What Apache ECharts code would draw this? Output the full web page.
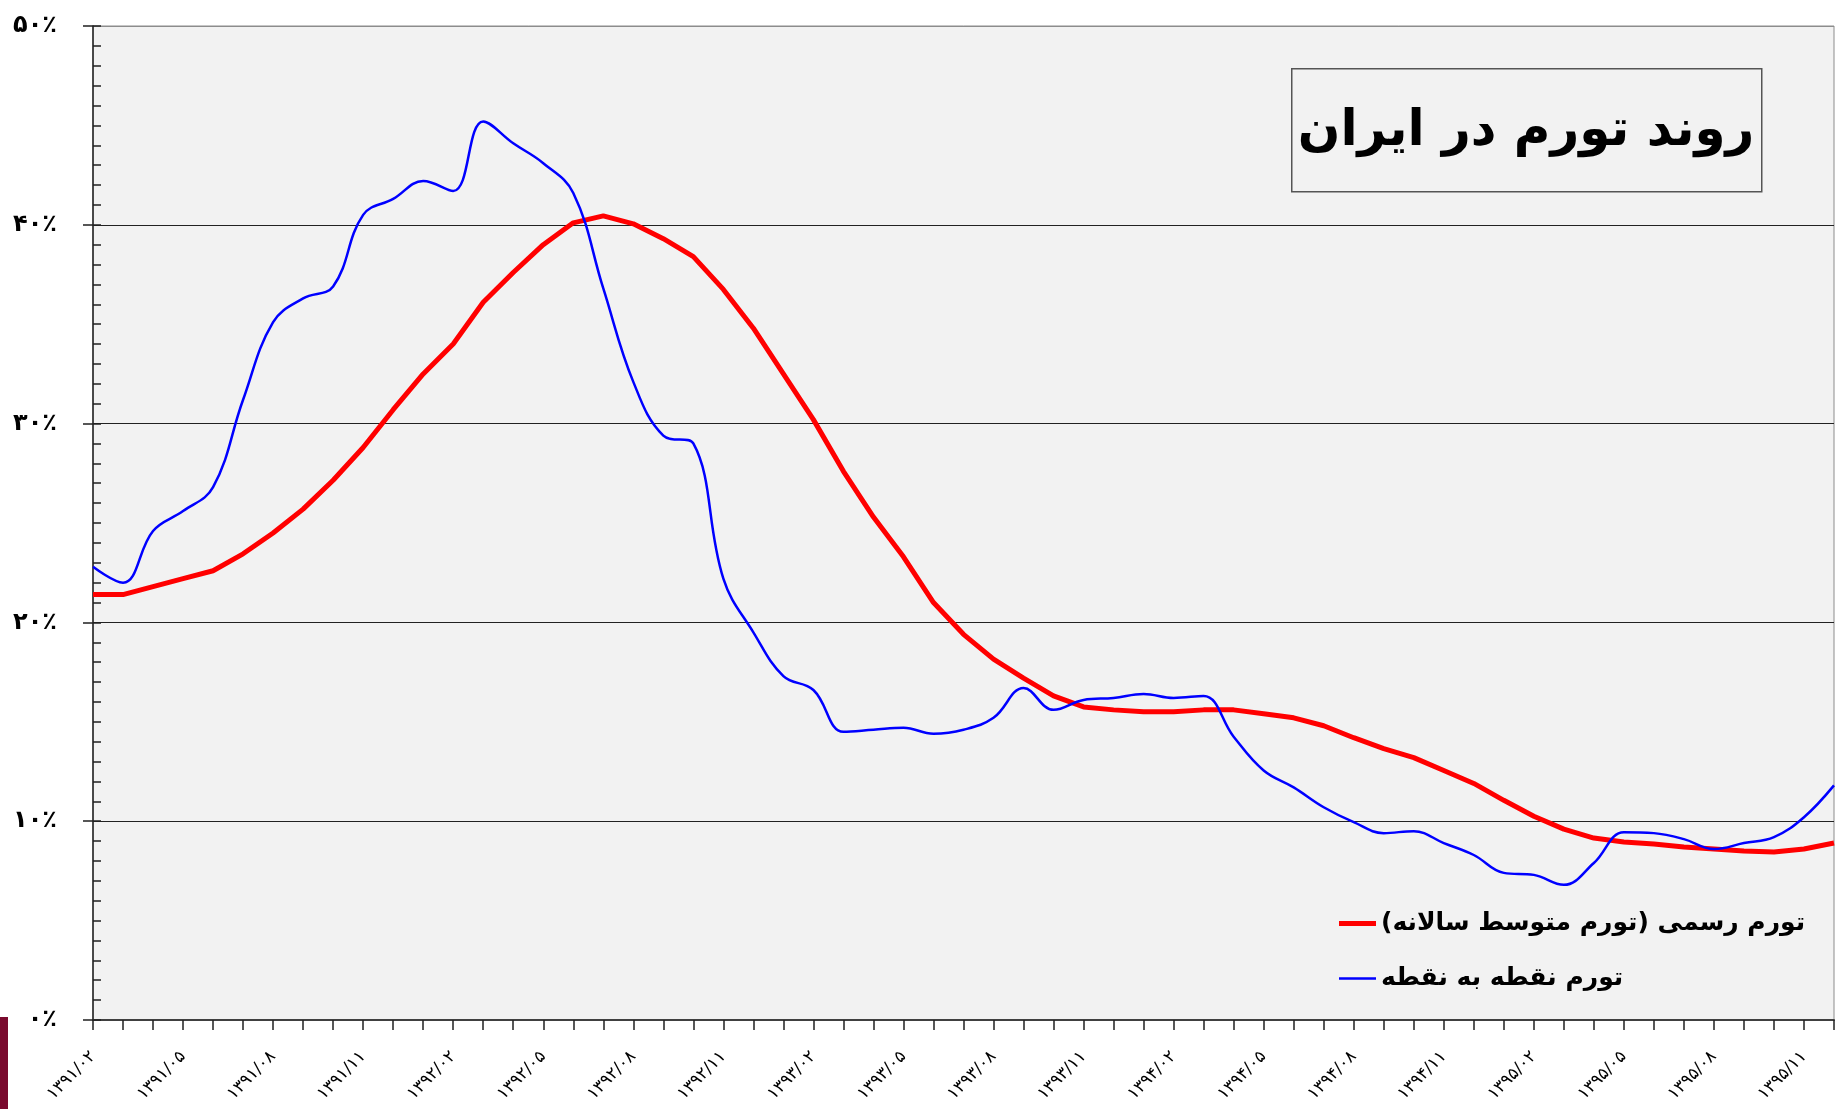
<!DOCTYPE html>
<html lang="fa">

<head>
    <meta charset="UTF-8">
    <title>روند تورم در ایران</title>
    <script src="https://cdn.jsdelivr.net/npm/echarts@6/dist/echarts.min.js"></script>
</head>

<body style="margin:0;background-color:#ffffff;">
    <div id="main" style="position:absolute;left:0;top:0;width:1846px;height:1109px"></div>

    <script>
        // months 1391/02 .. 1395/12
        var months = [
            '۱۳۹۱/۰۲', '۱۳۹۱/۰۳', '۱۳۹۱/۰۴', '۱۳۹۱/۰۵', '۱۳۹۱/۰۶', '۱۳۹۱/۰۷', '۱۳۹۱/۰۸', '۱۳۹۱/۰۹', '۱۳۹۱/۱۰', '۱۳۹۱/۱۱', '۱۳۹۱/۱۲',
            '۱۳۹۲/۰۱', '۱۳۹۲/۰۲', '۱۳۹۲/۰۳', '۱۳۹۲/۰۴', '۱۳۹۲/۰۵', '۱۳۹۲/۰۶', '۱۳۹۲/۰۷', '۱۳۹۲/۰۸', '۱۳۹۲/۰۹', '۱۳۹۲/۱۰', '۱۳۹۲/۱۱', '۱۳۹۲/۱۲',
            '۱۳۹۳/۰۱', '۱۳۹۳/۰۲', '۱۳۹۳/۰۳', '۱۳۹۳/۰۴', '۱۳۹۳/۰۵', '۱۳۹۳/۰۶', '۱۳۹۳/۰۷', '۱۳۹۳/۰۸', '۱۳۹۳/۰۹', '۱۳۹۳/۱۰', '۱۳۹۳/۱۱', '۱۳۹۳/۱۲',
            '۱۳۹۴/۰۱', '۱۳۹۴/۰۲', '۱۳۹۴/۰۳', '۱۳۹۴/۰۴', '۱۳۹۴/۰۵', '۱۳۹۴/۰۶', '۱۳۹۴/۰۷', '۱۳۹۴/۰۸', '۱۳۹۴/۰۹', '۱۳۹۴/۱۰', '۱۳۹۴/۱۱', '۱۳۹۴/۱۲',
            '۱۳۹۵/۰۱', '۱۳۹۵/۰۲', '۱۳۹۵/۰۳', '۱۳۹۵/۰۴', '۱۳۹۵/۰۵', '۱۳۹۵/۰۶', '۱۳۹۵/۰۷', '۱۳۹۵/۰۸', '۱۳۹۵/۰۹', '۱۳۹۵/۱۰', '۱۳۹۵/۱۱', '۱۳۹۵/۱۲'
        ];

        // official inflation (12-month average)
        var officialRate = [
            21.4, 21.4, 21.8, 22.2, 22.6, 23.45, 24.5, 25.7, 27.15, 28.8, 30.7,
            32.5, 34.0, 36.1, 37.6, 39.0, 40.1, 40.45, 40.05, 39.3, 38.4, 36.75, 34.8,
            32.5, 30.2, 27.6, 25.3, 23.3, 21.0, 19.4, 18.15, 17.2, 16.3, 15.75, 15.6,
            15.5, 15.5, 15.6, 15.6, 15.4, 15.2, 14.8, 14.2, 13.65, 13.2, 12.55, 11.9,
            11.05, 10.25, 9.6, 9.15, 8.95, 8.85, 8.7, 8.6, 8.5, 8.45, 8.6, 8.9
        ];

        // point-to-point inflation
        var pointRate = [
            22.8, 22.0, 24.6, 25.6, 26.8, 31.2, 35.1, 36.3, 36.9, 40.5, 41.3,
            42.2, 41.7, 45.2, 44.1, 43.1, 41.6, 36.8, 32.1, 29.4, 29.0, 22.2, 19.5,
            17.3, 16.6, 14.5, 14.6, 14.7, 14.4, 14.6, 15.2, 16.7, 15.6, 16.1, 16.2,
            16.4, 16.2, 16.3, 14.25, 12.55, 11.7, 10.7, 9.95, 9.4, 9.5, 8.9, 8.3,
            7.4, 7.3, 6.8, 7.9, 9.45, 9.4, 9.1, 8.6, 8.9, 9.2, 10.2, 11.8
        ];

        var yTickLabels = ['۰٪', '۱۰٪', '۲۰٪', '۳۰٪', '۴۰٪', '۵۰٪'];

        var seriesNames = ['تورم رسمی (تورم متوسط سالانه)', 'تورم نقطه به نقطه'];
        var chartTitle = 'روند تورم در ایران';

        var faFont = 'DejaVu Sans';

        var myCharts = echarts.init(document.getElementById('main'));
        myCharts.setOption({
            animation: false,
            backgroundColor: '#ffffff',
            grid: {
                left: 93,
                right: 12,
                top: 26,
                bottom: 89,
                show: true,
                backgroundColor: '#f2f2f2',
                borderColor: '#8c8c8c',
                borderWidth: 1
            },
            legend: {
                orient: 'vertical',
                left: 1334,
                top: 906,
                itemWidth: 37,
                itemHeight: 14,
                itemGap: 30,
                itemStyle: { borderWidth: 0 },
                textStyle: {
                    fontFamily: faFont,
                    fontSize: 25,
                    fontWeight: 'bold',
                    color: '#000'
                },
                data: [{
                    name: seriesNames[0],
                    icon: 'path://M0,0 M0,4.5 L37,4.5 L37,9.5 L0,9.5 Z M37,14'
                }, {
                    name: seriesNames[1],
                    icon: 'path://M0,0 M0,5.8 L37,5.8 L37,8.2 L0,8.2 Z M37,14'
                }]
            },
            graphic: [{
                type: 'rect',
                left: 1291,
                top: 68,
                shape: { width: 470, height: 123 },
                style: { fill: '#f2f2f2', stroke: '#555', lineWidth: 1.5 },
                z: 10
            }, {
                type: 'text',
                x: 1526,
                y: 132,
                style: {
                    text: chartTitle,
                    font: 'bold 50px "' + faFont + '"',
                    fill: '#000',
                    align: 'center',
                    verticalAlign: 'middle'
                },
                z: 11
            }, {
                type: 'rect',
                left: 0,
                top: 1017,
                shape: { width: 8, height: 92 },
                style: { fill: '#7a0a2e' },
                z: 10
            }],
            xAxis: {
                type: 'category',
                boundaryGap: false,
                data: months,
                axisLine: { lineStyle: { color: '#404040', width: 2 } },
                axisTick: { interval: 0, length: 10, lineStyle: { color: '#202020', width: 1.5 } },
                axisLabel: {
                    interval: 2,
                    rotate: 45,
                    margin: 34,
                    fontFamily: faFont,
                    fontSize: 17,
                    color: '#000'
                },
                splitLine: { show: false }
            },
            yAxis: [{
                type: 'value',
                min: 0,
                max: 50,
                interval: 10,
                axisLine: { show: true, lineStyle: { color: '#202020', width: 1.5 } },
                axisTick: { show: true, length: 10, lineStyle: { color: '#202020', width: 1.5 } },
                axisLabel: {
                    margin: 36,
                    fontFamily: faFont,
                    fontSize: 24,
                    fontWeight: 'bold',
                    color: '#000',
                    formatter: function(v) {
                        return yTickLabels[Math.round(v / 10)];
                    }
                },
                splitLine: {
                    show: true,
                    lineStyle: { color: ['#000', '#222', '#222', '#222', '#222', '#8c8c8c'], width: 1.2 }
                }
            }, {
                // minor ticks, drawn inward
                type: 'value',
                position: 'left',
                offset: 0,
                min: 0,
                max: 50,
                interval: 1,
                axisLine: { show: false },
                axisTick: { show: true, inside: true, length: 8, lineStyle: { color: '#202020', width: 1.5 } },
                axisLabel: { show: false },
                splitLine: { show: false }
            }],
            series: [{
                name: seriesNames[0],
                type: 'line',
                data: officialRate,
                symbol: 'none',
                smooth: false,
                lineStyle: { color: '#ff0000', width: 5 },
                itemStyle: { color: '#ff0000' },
                z: 3
            }, {
                name: seriesNames[1],
                type: 'line',
                data: pointRate,
                symbol: 'none',
                smooth: 0.4,
                lineStyle: { color: '#0000ff', width: 2.5 },
                itemStyle: { color: '#0000ff' },
                z: 4
            }]
        });
    </script>
</body>

</html>
